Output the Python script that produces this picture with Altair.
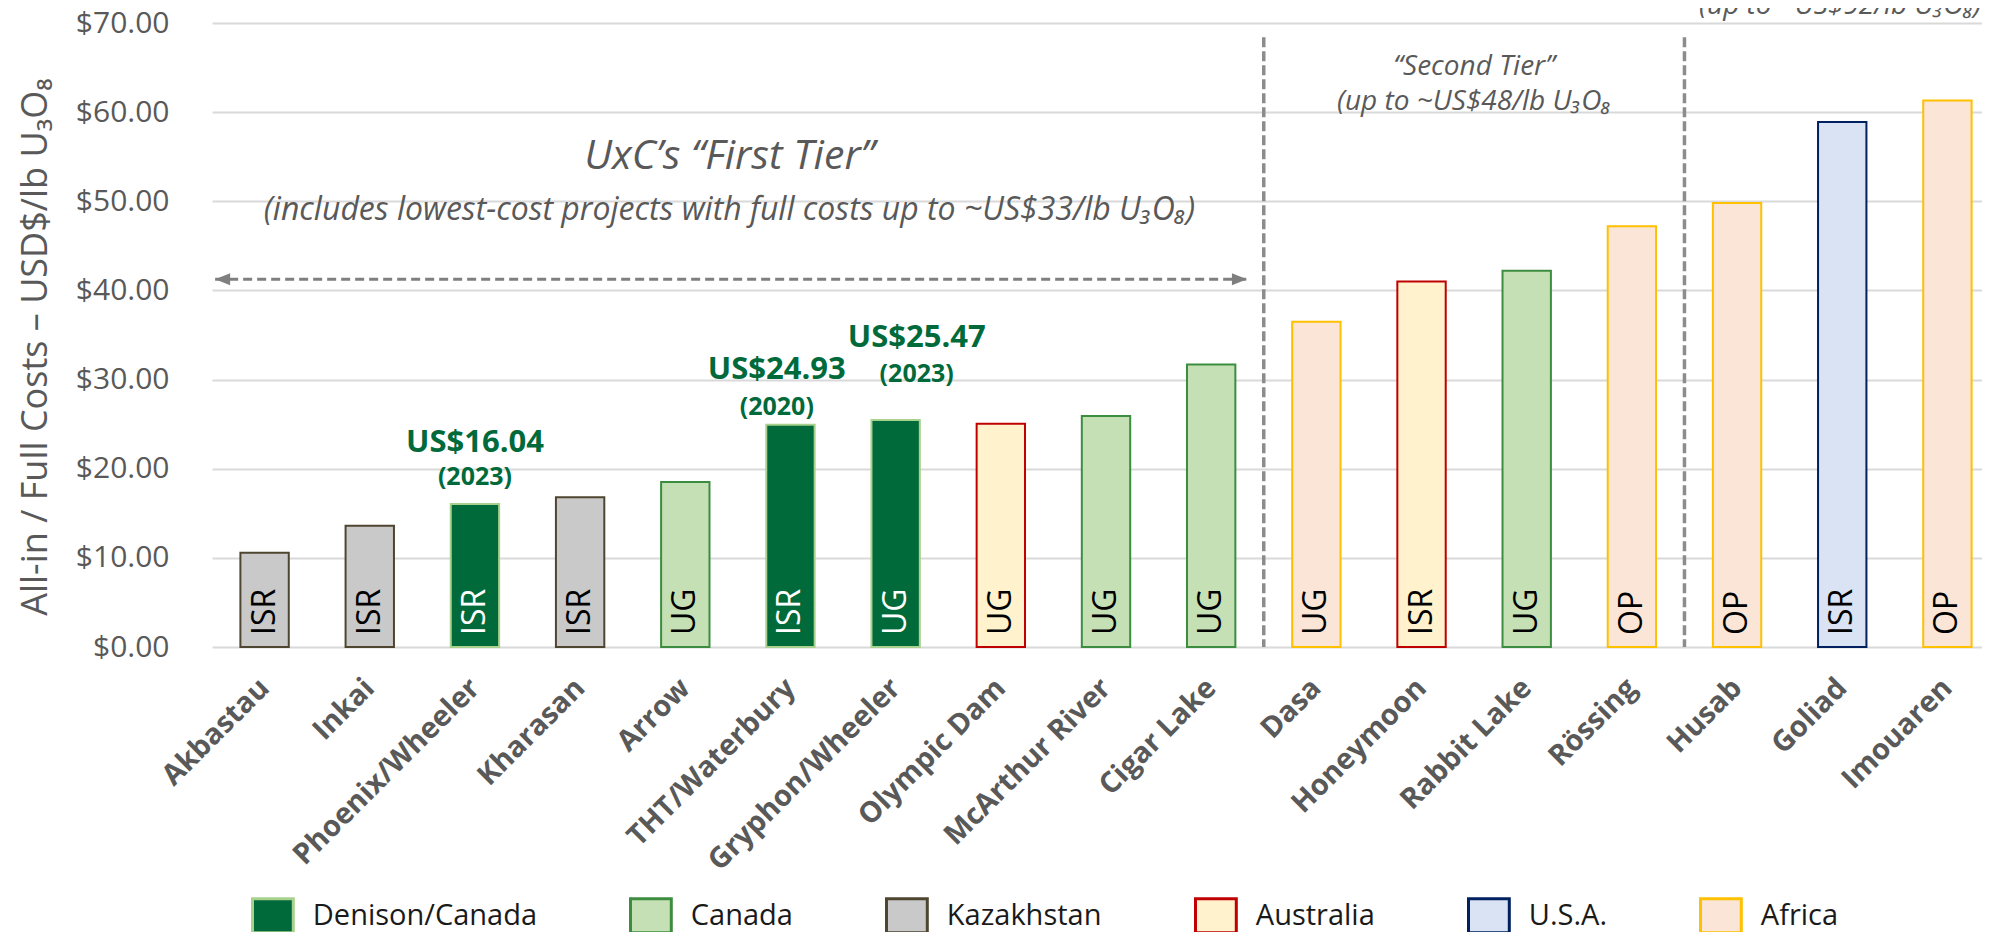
import altair as alt
import pandas as pd

# ---------------- data ----------------
projects = ["Akbastau", "Inkai", "Phoenix/Wheeler", "Kharasan", "Arrow",
            "THT/Waterbury", "Gryphon/Wheeler", "Olympic Dam", "McArthur River",
            "Cigar Lake", "Dasa", "Honeymoon", "Rabbit Lake", "Rössing",
            "Husab", "Goliad", "Imouaren"]
costs = [10.56, 13.6, 16.04, 16.8, 18.5, 24.93, 25.47, 25.05, 25.9,
         31.7, 36.5, 41.0, 42.2, 47.2, 49.8, 58.9, 61.3]
regions = ["Kazakhstan", "Kazakhstan", "Denison/Canada", "Kazakhstan", "Canada",
           "Denison/Canada", "Denison/Canada", "Australia", "Canada",
           "Canada", "Africa", "Australia", "Canada", "Africa",
           "Africa", "U.S.A.", "Africa"]
methods = ["ISR", "ISR", "ISR", "ISR", "UG", "ISR", "UG", "UG", "UG",
           "UG", "UG", "ISR", "UG", "OP", "OP", "ISR", "OP"]

legend_order = ["Denison/Canada", "Canada", "Kazakhstan", "Australia", "U.S.A.", "Africa"]
region_fill = ["#006a3b", "#c5e0b4", "#c9c9c9", "#fff2cc", "#dae3f3", "#fbe5d6"]
region_stroke = ["#a9d18e", "#3c8d40", "#4f4631", "#c00000", "#002060", "#ffc000"]

y_ticks = [0, 10, 20, 30, 40, 50, 60, 70]
y_title = ["All-in / Full Costs – USD$/lb U₃O₈"]
y_title_slot = [-1.569]
y_title_level = [33.65]

# Denison call-outs (slot = position in category units, level = $ value of baseline)
callout_values = ["US$16.04", "US$24.93", "US$25.47"]
callout_years = ["(2023)", "(2020)", "(2023)"]
callout_slot = [2.50, 5.37, 6.70]
callout_value_level = [21.9, 30.1, 33.7]
callout_year_level = [18.2, 26.0, 29.75]

# tier annotations
first_tier_title = ["UxC’s “First Tier”"]
first_tier_sub = ["(includes lowest-cost projects with full costs up to ~US$33/lb U₃O₈)"]
first_tier_slot = [4.92]
first_tier_title_level = [53.6]
first_tier_sub_level = [47.9]

upper_tier_text = ["“Second Tier”", "(up to ~US$48/lb U₃O₈", "(up to ~US$92/lb U₃O₈)"]
upper_tier_slot = [12.0, 12.0, 15.48]
upper_tier_level = [64.17, 60.24, 71.0]

tier_boundaries = [10, 14]
boundary_top = 68.4
arrow_from, arrow_to, arrow_level = 0.03, 9.84, 41.25

# ---------------- layout ----------------
PLOT_W, PLOT_H = 1770, 624
RANGE_W = 1788
N = len(projects)
GREY = "#595959"
FONT = "Open Sans"

df = pd.DataFrame({
    "project": projects, "cost": costs, "region": regions, "method": methods,
    "zero": [0] * N,
    "txt": ["#ffffff" if r == "Denison/Canada" else "#000000" for r in regions],
})

y_scale = alt.Scale(domain=[0, 70], nice=False, zero=True)
y_axis = alt.Axis(values=y_ticks, format="$.2f", labelFontSize=30, labelColor=GREY,
                  labelFont=FONT, labelPadding=43, ticks=False, domain=False,
                  gridColor="#d9d9d9", gridWidth=2, title=None)

x_band = alt.X("project:N",
               scale=alt.Scale(domain=projects, range=[0, RANGE_W],
                               paddingInner=0.54, paddingOuter=0.27),
               axis=alt.Axis(title=None, labelAngle=-45, labelAlign="right",
                             labelBaseline="middle", labelFontSize=29,
                             labelFontWeight="bold", labelColor=GREY, labelFont=FONT,
                             labelPadding=36, labelLimit=400, labelOverlap=False,
                             ticks=False, domain=False, grid=False))

leg = alt.Legend(title=None, orient="none", legendX=42.4, legendY=874,
                 direction="horizontal", symbolType="M-1.2,-1H1.2V1H-1.2Z",
                 symbolSize=1156, symbolStrokeWidth=3, labelFontSize=29,
                 labelFont=FONT, labelColor="#1a1a1a", labelOffset=21.4,
                 columnPadding=87, padding=0, labelLimit=0, symbolOpacity=1)

bars = alt.Chart(df).mark_bar(strokeWidth=2).encode(
    x=x_band,
    y=alt.Y("cost:Q", scale=y_scale, axis=y_axis),
    fill=alt.Fill("region:N", scale=alt.Scale(domain=legend_order, range=region_fill), legend=leg),
    stroke=alt.Stroke("region:N", scale=alt.Scale(domain=legend_order, range=region_stroke), legend=leg),
)

bar_text = alt.Chart(df).mark_text(angle=270, align="left", baseline="middle", dx=12,
                                   fontSize=32, font=FONT).encode(
    x=x_band,
    y=alt.Y("zero:Q", scale=y_scale, axis=y_axis),
    text="method:N",
    color=alt.Color("txt:N", scale=None),
)

base_layer = alt.layer(bars, bar_text)

# ---------------- annotations (own slot scale) ----------------
x_slot_scale = alt.Scale(domain=[0, N], range=[0, RANGE_W], nice=False, zero=False)


def xq(field):
    return alt.X(f"{field}:Q", scale=x_slot_scale, axis=None)


def yq(field):
    return alt.Y(f"{field}:Q", scale=y_scale, axis=y_axis)


def text_layer(texts, slots, levels, **style):
    d = pd.DataFrame({"t": texts, "s": slots, "v": levels})
    return alt.Chart(d).mark_text(align="center", baseline="alphabetic", font=FONT,
                                  **style).encode(x=xq("s"), y=yq("v"), text="t:N")


ytitle = text_layer(y_title, y_title_slot, y_title_level,
                    fontSize=36, angle=270, color=GREY)
t1 = text_layer(first_tier_title, first_tier_slot, first_tier_title_level,
                fontSize=41, fontStyle="italic", color=GREY)
t2 = text_layer(first_tier_sub, first_tier_slot, first_tier_sub_level,
                fontSize=32, fontStyle="italic", color=GREY)
t3 = text_layer(upper_tier_text, upper_tier_slot, upper_tier_level,
                fontSize=28, fontStyle="italic", color=GREY)
c1 = text_layer(callout_values, callout_slot, callout_value_level,
                fontSize=31, fontWeight="bold", color="#006a3b")
c2 = text_layer(callout_years, callout_slot, callout_year_level,
                fontSize=25, fontWeight="bold", color="#006a3b")

sep_df = pd.DataFrame({"s": tier_boundaries, "top": [boundary_top] * len(tier_boundaries),
                       "bottom": [0] * len(tier_boundaries)})
separators = alt.Chart(sep_df).mark_rule(strokeDash=[10, 4], strokeWidth=3.5,
                                         color="#8c8c8c").encode(
    x=xq("s"), y=yq("top"), y2="bottom:Q")

arrow_df = pd.DataFrame({"a": [arrow_from], "b": [arrow_to], "v": [arrow_level]})
arrow_line = alt.Chart(arrow_df).mark_rule(strokeDash=[9, 5], strokeWidth=3,
                                           color="#7f7f7f").encode(
    x=xq("a"), x2="b:Q", y=yq("v"))
head_l = alt.Chart(arrow_df).mark_point(shape="M0,0L2,-0.8L2,0.8Z", filled=True, size=225,
                                        color="#7f7f7f", opacity=1).encode(
    x=xq("a"), y=yq("v"))
head_r = alt.Chart(arrow_df).mark_point(shape="M0,0L-2,-0.8L-2,0.8Z", filled=True, size=225,
                                        color="#7f7f7f", opacity=1).encode(
    x=xq("b"), y=yq("v"))

ann_layer = alt.layer(separators, arrow_line, head_l, head_r, ytitle, t1, t2, t3, c1, c2)

chart = alt.layer(base_layer, ann_layer).resolve_scale(x="independent").properties(
    width=PLOT_W, height=PLOT_H,
    autosize=alt.AutoSizeParams(type="none"),
    padding={"left": 204, "top": 15, "right": 0, "bottom": 285},
).configure(font=FONT).configure_view(stroke=None)

chart.save("out.html", embed_options={"renderer": "svg", "actions": False})
